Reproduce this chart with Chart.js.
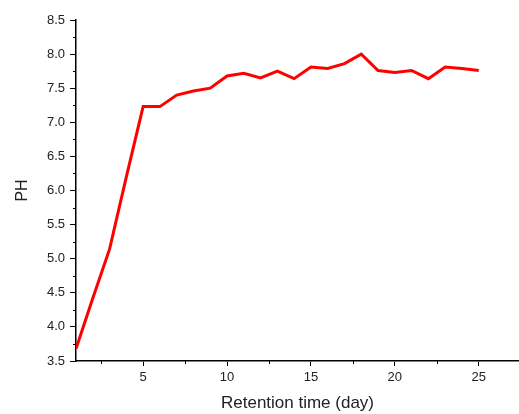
<!DOCTYPE html>
<html>
<head>
<meta charset="utf-8">
<script src="https://cdn.jsdelivr.net/npm/chart.js@4/dist/chart.umd.min.js"></script>
<style>
    html, body { margin: 0; padding: 0; background: #fff; }
    #wrap { width: 519px; height: 414px; }
</style>
</head>
<body>
<div id="wrap"><canvas id="phChart"></canvas></div>
<script>
// Retention time (day) and measured PH
const days = [1, 2, 3, 4, 5, 6, 7, 8, 9, 10, 11, 12, 13, 14, 15, 16, 17, 18, 19, 20, 21, 22, 23, 24, 25];
const phValues = [3.68, 4.42, 5.14, 6.2, 7.23, 7.23, 7.4, 7.46, 7.5, 7.68, 7.72, 7.65, 7.75, 7.64, 7.81, 7.79, 7.86, 8.0, 7.76, 7.73, 7.76, 7.64, 7.81, 7.79, 7.76];
const xTickValues = [5, 10, 15, 20, 25];
const xMinorTicks = [2.5, 7.5, 12.5, 17.5, 22.5, 27.5];
const yMinorTicks = [3.75, 4.25, 4.75, 5.25, 5.75, 6.25, 6.75, 7.25, 7.75, 8.25];

const textColor = '#222';

// small ticks between the labelled ones
const minorTicks = {
    id: 'minorTicks',
    afterDraw(chart) {
        const ctx = chart.ctx;
        const x = chart.scales.x, y = chart.scales.y;
        ctx.save();
        ctx.strokeStyle = '#000';
        ctx.lineWidth = 1;
        ctx.beginPath();
        yMinorTicks.forEach(v => {
            const py = Math.round(y.getPixelForValue(v)) + 0.5;
            ctx.moveTo(chart.chartArea.left, py);
            ctx.lineTo(chart.chartArea.left - 3, py);
        });
        xMinorTicks.forEach(v => {
            if (v > x.max) return;
            const px = Math.round(x.getPixelForValue(v)) + 0.5;
            ctx.moveTo(px, chart.chartArea.bottom);
            ctx.lineTo(px, chart.chartArea.bottom + 3);
        });
        ctx.stroke();
        ctx.restore();
    }
};

new Chart(document.getElementById('phChart'), {
    type: 'line',
    data: {
        datasets: [{
            data: days.map((d, i) => ({ x: d, y: phValues[i] })),
            borderColor: '#ff0000',
            borderWidth: 3,
            pointRadius: 0,
            tension: 0,
            fill: false
        }]
    },
    options: {
        responsive: true,
        maintainAspectRatio: false,
        animation: false,
        layout: { padding: { top: 20, right: 0, left: 0, bottom: 0 } },
        plugins: {
            legend: { display: false },
            tooltip: { enabled: false }
        },
        scales: {
            x: {
                type: 'linear',
                min: 1,
                max: 27.4,
                afterBuildTicks: scale => {
                    scale.ticks = xTickValues.map(v => ({ value: v }));
                },
                afterFit: scale => { scale.height = 53; },
                grid: { drawOnChartArea: false, tickLength: 5, color: '#000' },
                border: { color: '#000', width: 1.5 },
                ticks: {
                    color: textColor,
                    padding: 4,
                    font: { family: 'Liberation Sans', size: 13 },
                    maxRotation: 0
                },
                title: {
                    display: true,
                    text: 'Retention time (day)',
                    color: textColor,
                    font: { family: 'Liberation Sans', size: 17 },
                    padding: { top: 2, bottom: 0 }
                }
            },
            y: {
                min: 3.5,
                max: 8.5,
                afterFit: scale => { scale.width = 76; },
                grid: { drawOnChartArea: false, tickLength: 6, color: '#000' },
                border: { color: '#000', width: 1.5 },
                ticks: {
                    stepSize: 0.5,
                    color: textColor,
                    padding: 5,
                    font: { family: 'Liberation Sans', size: 13 },
                    callback: v => v.toFixed(1)
                },
                title: {
                    display: true,
                    text: 'PH',
                    color: textColor,
                    font: { family: 'Liberation Sans', size: 16 },
                    padding: { top: 13, bottom: 0 }
                }
            }
        }
    },
    plugins: [minorTicks]
});
</script>
</body>
</html>
